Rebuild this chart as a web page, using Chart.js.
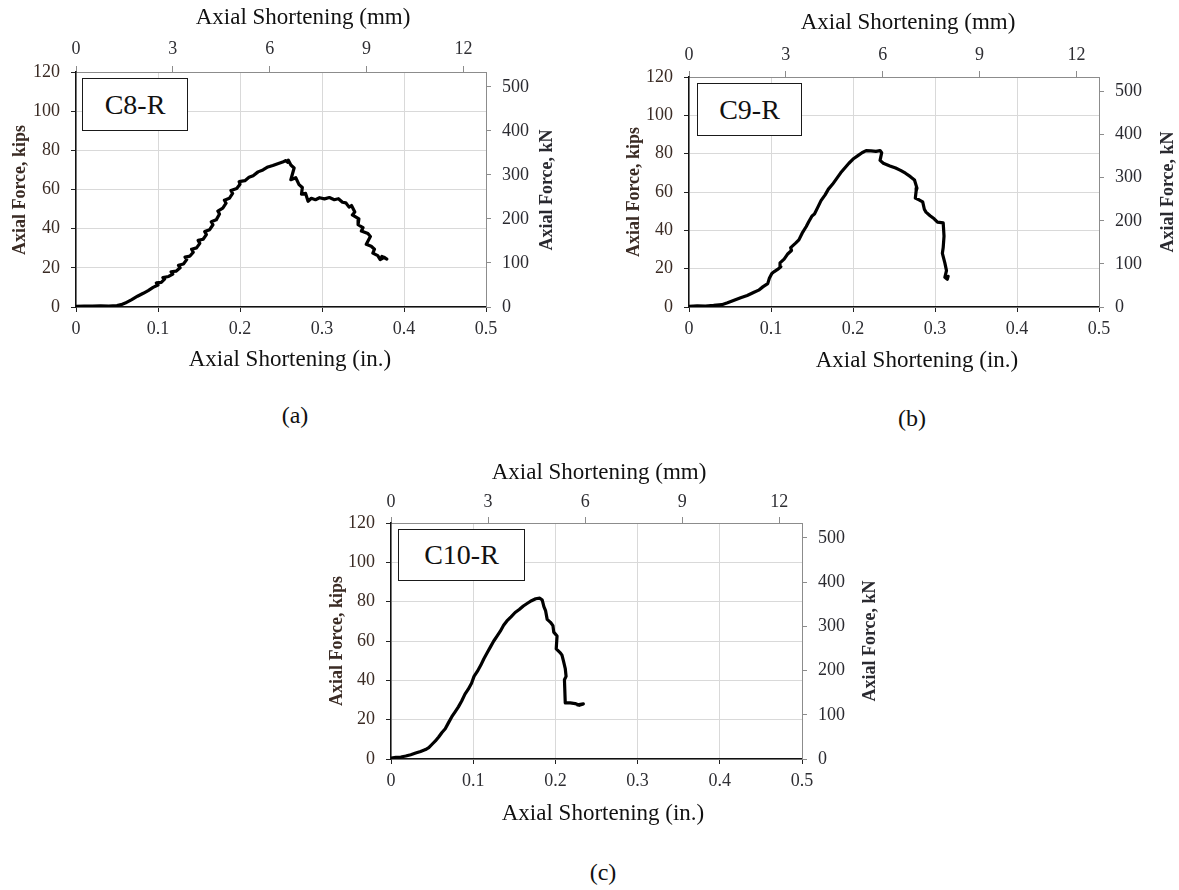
<!DOCTYPE html>
<html>
<head>
<meta charset="utf-8">
<script src="https://cdn.jsdelivr.net/npm/chart.js@4.4.1/dist/chart.umd.min.js"></script>
<style>
  body { margin: 0; background: #fff; width: 1179px; height: 890px; position: relative; overflow: hidden;
         font-family: "Liberation Serif", "Times New Roman", serif; }
  canvas { position: absolute; }
  .tag { position: absolute; border: 1.6px solid #1a1a1a; background: #fff; box-sizing: border-box;
         display: flex; align-items: center; justify-content: center; font-size: 28px; color: #111; z-index: 2; }
  .cap { position: absolute; font-size: 24px; color: #111; transform: translate(-50%, -50%); }
</style>
</head>
<body>
<canvas id="chartA" width="560" height="385" style="left:0px;top:0px"></canvas>
<canvas id="chartB" width="599" height="385" style="left:580px;top:0px"></canvas>
<canvas id="chartC" width="620" height="400" style="left:300px;top:440px"></canvas>

<div class="tag" style="left:82px;top:78px;width:106px;height:53px">C8-R</div>
<div class="tag" style="left:697px;top:83px;width:105px;height:53px">C9-R</div>
<div class="tag" style="left:398px;top:529px;width:127px;height:52px">C10-R</div>

<div class="cap" style="left:295px;top:415px">(a)</div>
<div class="cap" style="left:912px;top:418px">(b)</div>
<div class="cap" style="left:603px;top:872px">(c)</div>

<script>
const KN_PER_KIP = 4.448;
const MM_PER_IN = 25.4;

const inchTicks = [0, 0.1, 0.2, 0.3, 0.4, 0.5];
const kipTicks = [0, 20, 40, 60, 80, 100, 120];
const kNTicks = [0, 100, 200, 300, 400, 500];
const mmTicks = [0, 3, 6, 9, 12];

// C8-R  (shortening in., force kips)
const c8Shortening = [0, 0.01, 0.02, 0.03, 0.04, 0.05, 0.055, 0.06, 0.068, 0.075, 0.082, 0.088, 0.094, 0.1, 0.098,
  0.104, 0.108, 0.106, 0.113, 0.118, 0.116, 0.122, 0.127, 0.125, 0.131, 0.135, 0.133, 0.139, 0.143, 0.141, 0.147,
  0.151, 0.149, 0.155, 0.159, 0.157, 0.163, 0.167, 0.165, 0.171, 0.175, 0.173, 0.179, 0.183, 0.181, 0.187, 0.191,
  0.189, 0.196, 0.2, 0.199, 0.206, 0.211, 0.216, 0.222, 0.228, 0.234, 0.24, 0.246, 0.252, 0.256, 0.258, 0.259,
  0.262, 0.266, 0.262, 0.268, 0.272, 0.276, 0.275, 0.28, 0.283, 0.287, 0.292, 0.297, 0.303, 0.309, 0.315, 0.32,
  0.325, 0.329, 0.333, 0.336, 0.34, 0.337, 0.345, 0.344, 0.35, 0.348, 0.356, 0.359, 0.354, 0.36, 0.364, 0.362,
  0.368, 0.371, 0.376, 0.379, 0.373];
const c8Force = [0.3, 0.5, 0.4, 0.6, 0.5, 0.7, 1.2, 2, 3.8, 5.5, 7, 8.4, 10, 11.2, 12.3,
  12.6, 14.2, 15, 15.6, 16.8, 18, 18.3, 20, 21.3, 22, 24.2, 25.5, 26, 28, 29.5, 30.2,
  32.5, 34, 34.6, 37, 38.5, 39.5, 42, 43.5, 44.5, 47.5, 49, 50.5, 53, 54.5, 55.5, 58,
  59.5, 60.5, 62.7, 64, 64.5, 66.2, 67, 69, 70, 71.5, 72.3, 73.2, 74, 74.8, 73.9, 75,
  72.5, 71, 65, 66, 62.5, 61, 57.6, 58, 54, 55.5, 54.8, 55.8, 55.2, 55.9, 54.8, 55.3,
  53.5, 53.2, 51, 51.8, 48.5, 47, 45, 42, 40.5, 38.8, 37.5, 36, 32, 31, 29.5, 27.5,
  26.2, 24.2, 25.3, 24.5, 25.8];

// C9-R
const c9Shortening = [0, 0.01, 0.02, 0.03, 0.04, 0.047, 0.055, 0.063, 0.071, 0.078, 0.085, 0.09, 0.096, 0.098,
  0.101, 0.104, 0.108, 0.112, 0.111, 0.116, 0.12, 0.125, 0.124, 0.13, 0.134, 0.138, 0.143, 0.146, 0.15, 0.153,
  0.157, 0.161, 0.166, 0.17, 0.175, 0.18, 0.185, 0.19, 0.195, 0.201, 0.206, 0.211, 0.216, 0.222, 0.228, 0.233,
  0.235, 0.233, 0.237, 0.245, 0.252, 0.258, 0.264, 0.27, 0.275, 0.278, 0.277, 0.276, 0.281, 0.285, 0.287, 0.289,
  0.294, 0.299, 0.303, 0.31, 0.311, 0.31, 0.309, 0.312, 0.314, 0.312, 0.315, 0.316];
const c9Force = [0.4, 0.6, 0.5, 0.8, 1.2, 2.2, 3.5, 4.8, 6, 7.4, 8.8, 10.5, 12.2, 15,
  17.5, 18.5, 19.6, 21, 23, 25, 27.5, 29.5, 31, 33.3, 35, 38.5, 42, 44.5, 47.5, 48.5,
  52, 55.5, 58.5, 61.5, 64, 67, 70, 72.5, 75, 77.5, 79, 80.5, 81.6, 81.5, 81.2, 81.6,
  80.5, 76.5, 75, 73.6, 72.5, 71.3, 69.8, 68, 66.3, 62, 60.5, 56.8, 55.8, 54.8, 51, 49.5,
  47.6, 46, 44.3, 43.9, 37, 31, 28, 23, 19, 15.5, 14.5, 16];

// C10-R
const c10Shortening = [0, 0.006, 0.012, 0.018, 0.024, 0.03, 0.036, 0.042, 0.046, 0.05, 0.054, 0.058, 0.062, 0.066,
  0.07, 0.074, 0.078, 0.082, 0.086, 0.09, 0.094, 0.098, 0.101, 0.105, 0.109, 0.113, 0.117, 0.121, 0.125, 0.129,
  0.133, 0.137, 0.141, 0.146, 0.151, 0.156, 0.161, 0.166, 0.171, 0.176, 0.181, 0.184, 0.186, 0.188, 0.19, 0.194,
  0.197, 0.198, 0.202, 0.201, 0.206, 0.208, 0.21, 0.212, 0.213, 0.211, 0.212, 0.218, 0.224, 0.229, 0.234, 0.227];
const c10Force = [0.5, 0.9, 1, 1.5, 2.2, 3, 3.8, 4.8, 5.8, 7.5, 9.2, 11.2, 13.5, 15.4,
  18.5, 21.5, 24, 26.5, 29.5, 33, 35.5, 38.5, 42, 44.5, 47.5, 51, 54, 57, 60, 62.5,
  65, 68, 70.2, 72.3, 74.5, 76, 77.8, 79.2, 80.5, 81.5, 81.8, 80.8, 77.5, 75.5, 71, 69.5,
  67.8, 64.5, 62.5, 56, 54, 52.8, 49.5, 46, 42, 40.3, 28.5, 28.5, 28.2, 27.3, 28, 27.5];

const SERIF = "'Liberation Serif', 'Times New Roman', serif";
const tickFont = { family: SERIF, size: 18 };

function setTicks(vals) {
  return (s) => { s.ticks = vals.map((v) => ({ value: v })); };
}

// axis titles drawn at fixed spots (the right one reads bottom-to-top like the left one)
function titlePlugin(items) {
  return {
    id: "axisTitles",
    afterDraw(chart) {
      const ctx = chart.ctx;
      items.forEach((t) => {
        ctx.save();
        ctx.translate(t.x, t.y);
        if (t.rot) ctx.rotate(-Math.PI / 2);
        ctx.font = t.font;
        ctx.fillStyle = t.color;
        ctx.textAlign = "center";
        ctx.textBaseline = "middle";
        ctx.fillText(t.text, 0, 0);
        ctx.restore();
      });
    }
  };
}

function makeChart(id, xs, ys, g) {
  const pts = xs.map((x, i) => ({ x: x, y: ys[i] }));
  const titles = [
    { text: "Axial Shortening (mm)", x: g.tTop[0], y: g.tTop[1], font: "23px " + SERIF, color: "#111" },
    { text: "Axial Shortening (in.)", x: g.tBottom[0], y: g.tBottom[1], font: "23px " + SERIF, color: "#111" },
    { text: "Axial Force, kips", x: g.tLeft[0], y: g.tLeft[1], rot: true, font: "bold 18px " + SERIF, color: "#3a2b24" },
    { text: "Axial Force, kN", x: g.tRight[0], y: g.tRight[1], rot: true, font: "bold 18px " + SERIF, color: "#2a2a30" }
  ];

  new Chart(document.getElementById(id), {
    type: "scatter",
    data: {
      datasets: [{
        data: pts, showLine: true, borderColor: "#000", borderWidth: 3.2, pointRadius: 0,
        tension: 0, fill: false, borderJoinStyle: "round", borderCapStyle: "round"
      }]
    },
    options: {
      responsive: false,
      animation: false,
      layout: { padding: 0 },
      plugins: { legend: { display: false }, tooltip: { enabled: false } },
      scales: {
        x: {
          type: "linear", position: "bottom", min: 0, max: 0.5,
          afterBuildTicks: setTicks(inchTicks),
          afterFit: (s) => { s.height = g.bottom; },
          grid: { color: "#d9d9d9", tickLength: 5, tickColor: "#222" },
          border: { color: "#111", width: 1.5 },
          ticks: { font: tickFont, color: "#2e2e33", padding: 6, maxRotation: 0, autoSkip: false }
        },
        x2: {
          type: "linear", position: "top", min: 0, max: 0.5 * MM_PER_IN,
          afterBuildTicks: setTicks(mmTicks),
          afterFit: (s) => { s.height = g.top; },
          grid: { drawOnChartArea: false, tickLength: 6, tickColor: "#8c8c8c" },
          border: { color: "#8c8c8c", width: 1 },
          ticks: { font: tickFont, color: "#2e2e33", padding: g.topPad, maxRotation: 0, autoSkip: false }
        },
        y: {
          type: "linear", position: "left", min: 0, max: 120,
          afterBuildTicks: setTicks(kipTicks),
          afterFit: (s) => { s.width = g.left; },
          grid: { color: "#d9d9d9", tickLength: 5, tickColor: "#222" },
          border: { color: "#111", width: 1.5 },
          ticks: { font: tickFont, color: "#3a2b24", padding: 11, autoSkip: false }
        },
        y2: {
          type: "linear", position: "right", min: 0, max: 120 * KN_PER_KIP,
          afterBuildTicks: setTicks(kNTicks),
          afterFit: (s) => { s.width = g.right; },
          grid: { drawOnChartArea: false, tickLength: 5, tickColor: "#8c8c8c" },
          border: { color: "#8c8c8c", width: 1 },
          ticks: { font: tickFont, color: "#2a2a30", padding: 11, autoSkip: false }
        }
      }
    },
    plugins: [titlePlugin(titles)]
  });
}

makeChart("chartA", c8Shortening, c8Force, {
  left: 76, right: 74, top: 72, bottom: 78, topPad: 6,
  tTop: [303, 18], tBottom: [290, 360], tLeft: [20, 190], tRight: [547, 190]
});

makeChart("chartB", c9Shortening, c9Force, {
  left: 109, right: 80, top: 77, bottom: 78, topPad: 5,
  tTop: [328, 23], tBottom: [337, 361], tLeft: [54, 192], tRight: [588, 192]
});

makeChart("chartC", c10Shortening, c10Force, {
  left: 91, right: 118, top: 83, bottom: 81, topPad: 4,
  tTop: [299, 33], tBottom: [303, 374], tLeft: [37, 201], tRight: [570, 201]
});
</script>
</body>
</html>
